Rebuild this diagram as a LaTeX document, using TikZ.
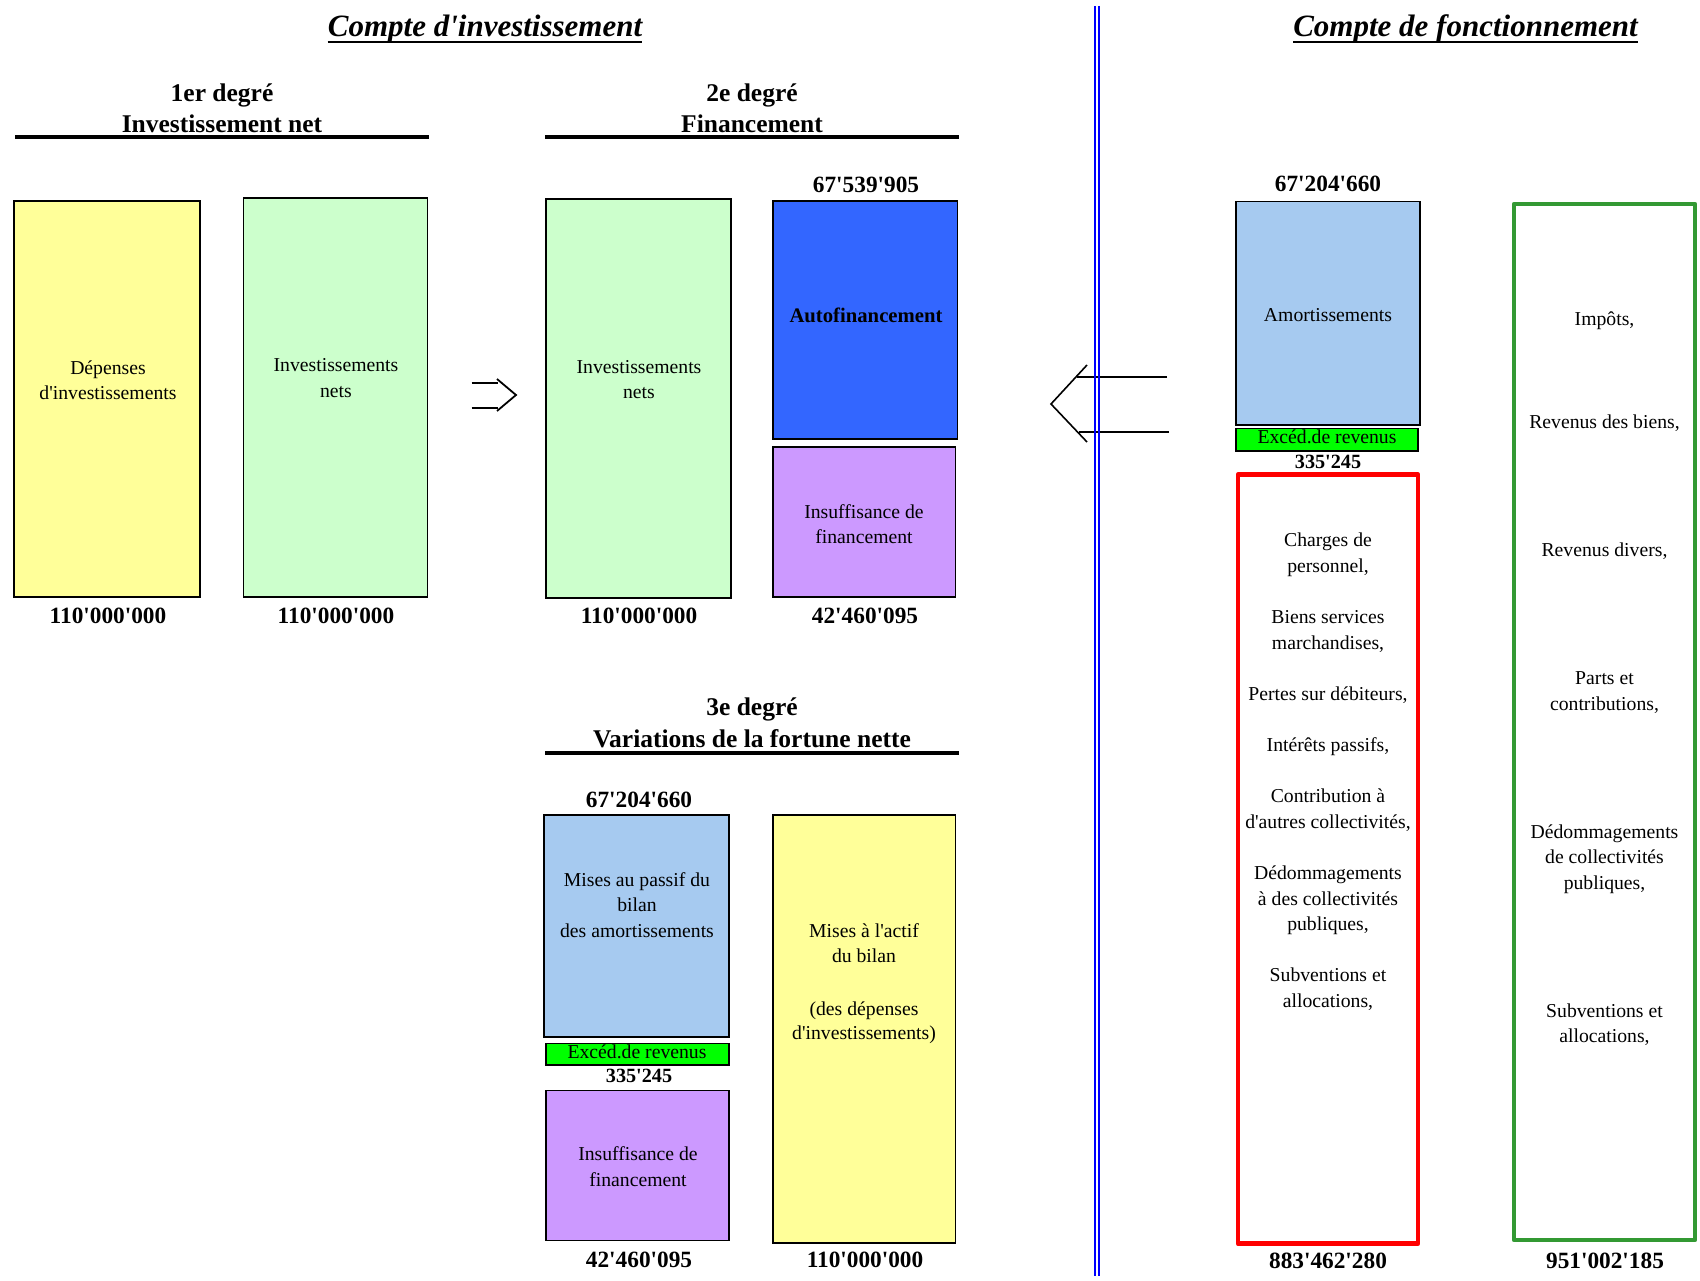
\documentclass[tikz,border=0pt]{standalone}
\usepackage{fontspec}
\setmainfont{Liberation Serif}[Ligatures=TeXOff]
\usetikzlibrary{fit}
\definecolor{cyel}{HTML}{FFFF99}
\definecolor{cgrn}{HTML}{CCFFCC}
\definecolor{cblu}{HTML}{3366FF}
\definecolor{cpur}{HTML}{CC99FF}
\definecolor{clb}{HTML}{A6CAF0}
\definecolor{cexc}{HTML}{00FF00}
\definecolor{cred}{HTML}{FF0000}
\definecolor{cgo}{HTML}{339933}
\definecolor{cline}{HTML}{0000FF}
\tikzset{
  box/.style={draw=black, line width=1.5pt, inner sep=0pt},
  obox/.style={line width=4.5pt, line join=round, inner sep=0pt},
  txt/.style={anchor=base, inner sep=0pt, font=\fontsize{19.7}{25.6}\selectfont},
  btxt/.style={anchor=base, inner sep=0pt, font=\fontsize{20.7}{25}\selectfont\bfseries},
  num/.style={anchor=base, inner sep=0pt, font=\fontsize{23.3}{27}\selectfont\bfseries},
  snum/.style={anchor=base, inner sep=0pt, font=\fontsize{20.2}{24}\selectfont\bfseries},
  head/.style={anchor=base, inner sep=0pt, font=\fontsize{25.5}{30}\selectfont\bfseries},
  ttl/.style={anchor=base, inner sep=0pt, font=\fontsize{31}{36}\selectfont\bfseries\itshape},
  hrule/.style={line width=3.5pt},
  urule/.style={line width=2.5pt},
  arr/.style={line width=1.8pt, line join=miter},
  vline/.style={draw=cline, line width=2pt},
}
\begin{document}
\begin{tikzpicture}[x=1pt,y=-1pt]
\useasboundingbox[fill=white] (0,0) rectangle (1700,1281);

% ---------- titles ----------
\node[ttl] (ti1) at (485,37) {Compte d'investissement};
\draw[urule] ([yshift=-5pt]ti1.base west) -- ([yshift=-5pt]ti1.base east);
\node[ttl] (ti2) at (1465.5,37) {Compte de fonctionnement};
\draw[urule] ([yshift=-5pt]ti2.base west) -- ([yshift=-5pt]ti2.base east);

% ---------- headings ----------
\node[head] (h1a) at (222,102) {1er degré};
\node[head] (h1b) at (222,133) {Investissement net};
\draw[hrule] (15,137) -- (429,137);
\node[head] (h2a) at (752,102) {2e degré};
\node[head] (h2b) at (752,133) {Financement};
\draw[hrule] (545,137) -- (959,137);
\node[head] (h3a) at (752,715) {3e degré};
\node[head] (h3b) at (752,747) {Variations de la fortune nette};
\draw[hrule] (545,753) -- (959,753);

% ---------- 1er degre ----------
\node[box, fill=cyel, fit={(14,201) (200,597)}] (yel1) {};
\node[box, fill=cgrn, fit={(243.5,198) (427.5,597)}] (grn1) {};
\node[txt] (t11) at (108,374) {Dépenses};
\node[txt] (t12) at (108,399) {d'investissements};
\node[txt] (t13) at (336,371) {Investissements};
\node[txt] (t14) at (336,397) {nets};
\node[num] (n11) at (108,623) {110'000'000};
\node[num] (n12) at (336,623) {110'000'000};

% double arrow
\coordinate (da1) at (471.7,382.7);
\coordinate (da2) at (498,382.7);
\coordinate (da3) at (471.7,408.3);
\coordinate (da4) at (498,408.3);
\coordinate (dc1) at (497,379);
\coordinate (dc2) at (516,395);
\coordinate (dc3) at (497,411);
\draw[arr] (da1) -- (da2);
\draw[arr] (da3) -- (da4);
\draw[arr] (dc1) -- (dc2) -- (dc3);

% ---------- 2e degre ----------
\node[box, fill=cgrn, fit={(546,199) (731,598)}] (grn2) {};
\node[box, fill=cblu, fit={(773,201) (957.5,439)}] (blu) {};
\node[box, fill=cpur, fit={(773,447) (955.5,597)}] (pur1) {};
\node[txt] (t21) at (639,373) {Investissements};
\node[txt] (t22) at (639,398) {nets};
\node[num] (n20) at (866,193) {67'539'905};
\node[btxt] (t23) at (866,323) {Autofinancement};
\node[txt] (t24) at (864,518) {Insuffisance de};
\node[txt] (t25) at (864,543) {financement};
\node[num] (n21) at (639,623) {110'000'000};
\node[num] (n22) at (865,623) {42'460'095};

% ---------- 3e degre ----------
\node[num] (n30) at (639,807) {67'204'660};
\node[box, fill=clb, fit={(544,815) (729,1037)}] (lb3) {};
\node[box, fill=cexc, fit={(546,1043.5) (729,1065)}] (exc3) {};
\node[box, fill=cpur, fit={(546,1090.5) (729,1240.5)}] (pur3) {};
\node[box, fill=cyel, fit={(773,815) (955.5,1243)}] (yel3) {};
\node[txt] (t31) at (637,886.7) {Mises au passif du};
\node[txt] (t32) at (637,911.7) {bilan};
\node[txt] (t33) at (637,937.3) {des amortissements};
\node[txt] (t34) at (637,1058) {Excéd.de revenus};
\node[snum] (n31) at (639,1082) {335'245};
\node[txt] (t35) at (638,1160.7) {Insuffisance de};
\node[txt] (t36) at (638,1186) {financement};
\node[txt] (t37) at (864,937.3) {Mises à l'actif};
\node[txt] (t38) at (864,962.7) {du bilan};
\node[txt] (t39) at (864,1015) {(des dépenses};
\node[txt] (t3a) at (864,1039.3) {d'investissements)};
\node[num] (n32) at (639,1267) {42'460'095};
\node[num] (n33) at (865,1267) {110'000'000};

% ---------- left arrow ----------
\coordinate (la1) at (1167,376.7);
\coordinate (la2) at (1077,376.7);
\coordinate (la3) at (1169,431.7);
\coordinate (la4) at (1079,431.7);
\coordinate (lc1) at (1087,365);
\coordinate (lc2) at (1051,404);
\coordinate (lc3) at (1087,442);
\draw[arr, line width=1.6pt] (la1) -- (la2);
\draw[arr, line width=1.6pt] (la3) -- (la4);
\draw[arr, line width=1.6pt] (lc1) -- (lc2) -- (lc3);

% ---------- separator ----------
\coordinate (v1t) at (1095,6);
\coordinate (v1b) at (1095,1276);
\coordinate (v2t) at (1099,6);
\coordinate (v2b) at (1099,1276);
\draw[vline] (v1t) -- (v1b);
\draw[vline] (v2t) -- (v2b);

% ---------- compte de fonctionnement ----------
\node[num] (n40) at (1328,192) {67'204'660};
\node[box, fill=clb, fit={(1236,201.5) (1420,425)}] (amo) {};
\node[txt] (t40) at (1328,322) {Amortissements};
\node[box, fill=cexc, fit={(1236,428.5) (1418,451)}] (exc) {};
\node[txt] (t41) at (1327,443) {Excéd.de revenus};
\node[snum] (n41) at (1328,468) {335'245};
\node[obox, draw=cred, fit={(1238,474.6) (1418,1243.7)}] (charges) {};
\node[obox, draw=cgo, fit={(1514,204) (1695,1240)}] (revenus) {};

\foreach \k/\t [count=\i] in {0/{Charges de},1/{personnel,},3/{Biens services},
  4/{marchandises,},6/{Pertes sur débiteurs,},8/{Intérêts passifs,},
  10/{Contribution à},11/{d'autres collectivités,},13/{Dédommagements},
  14/{à des collectivités},15/{publiques,},17/{Subventions et},18/{allocations,}}
  \node[txt] (rc\i) at (1328,{546.7+25.6*\k}) {\t};

\foreach \k/\t [count=\i] in {0/{Impôts,},4/{Revenus des biens,},9/{Revenus divers,},
  14/{Parts et},15/{contributions,},20/{Dédommagements},21/{de collectivités},
  22/{publiques,},27/{Subventions et},28/{allocations,}}
  \node[txt] (gr\i) at (1604.5,{326+25.6*\k}) {\t};

\node[num] (n42) at (1328,1268) {883'462'280};
\node[num] (n43) at (1605,1268) {951'002'185};
\end{tikzpicture}
\end{document}
